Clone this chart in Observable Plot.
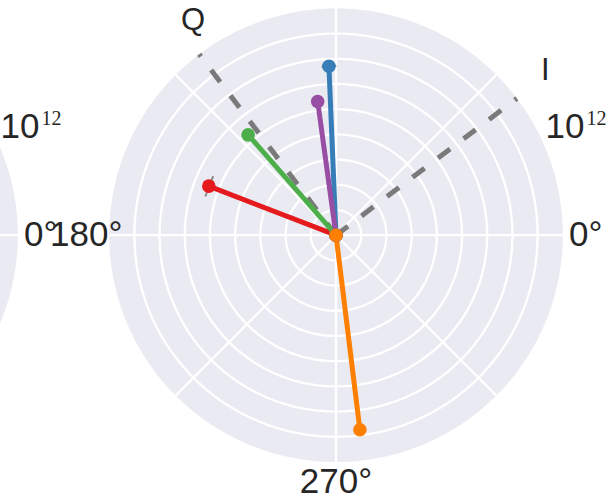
<!DOCTYPE html>
<html>
<head>
<meta charset="utf-8">
<script src="https://cdn.jsdelivr.net/npm/d3@7"></script>
<script src="https://cdn.jsdelivr.net/npm/@observablehq/plot@0.6"></script>
<style>
  html, body { margin: 0; padding: 0; background: #fff; }
  #chart { width: 615px; height: 499px; overflow: hidden; position: relative; }
  #chart svg { overflow: hidden; display: block; }
</style>
</head>
<body>
<div id="chart"></div>
<script>
// ---------- data ----------
const series = ["S1", "S2", "S3", "S4", "S5"];
const seriesColors = ["#e41a1c", "#377eb8", "#4daf4a", "#984ea3", "#ff7f00"];
const phaseDeg = [158.9, 92.4, 131.2, 97.8, 277.0];
const magnitude = [2.56e8, 5.15e9, 1.96e8, 2.26e8, 6.02e10];
const phaseErrDeg = [4.6, 2.5, 0, 0, 0];

const iqAxes = ["I", "Q"];
const iqAngleDeg = [37.1, 127.1];

const thetaTicks = [0, 45, 90, 135, 180, 225, 270, 315];
const thetaTickLabels = ["0°", "", "90°", "", "180°", "", "270°", ""];
const radialTicks = [1e4, 1e5, 1e6, 1e7, 1e8, 1e9, 1e10, 1e11, 1e12];
const radialLimits = [1e3, 1e12];
const radialLabelBase = "10";
const radialLabelExp = "12";
const radialLabelAngle = 22.5;

// ---------- layout ----------
const W = 615, H = 499;
const centerPx = [335.5, 234.7];
const radiusPx = 226.8;
const panelOffsetPx = -545;
const u = px => px / radiusPx;
const rad = d => d * Math.PI / 180;
const rho = d3.scaleLog().domain(radialLimits).range([0, 1]);
const pt = (cx, theta, r) => ({x: cx + r * Math.cos(rad(theta)), y: r * Math.sin(rad(theta))});
const panels = [{panel: "left", cx: u(panelOffsetPx)}, {panel: "right", cx: 0}];
const visible = p => {
  const px = centerPx[0] + p.x * radiusPx, py = centerPx[1] - p.y * radiusPx;
  return px > -20 && px < W + 20 && py > 0 && py < H;
};

const sweep = d3.range(0, 361, 1);
const disk = panels.flatMap(p => sweep.map(t => ({panel: p.panel, ...pt(p.cx, t, 1)})));
const rings = panels.flatMap(p => radialTicks.filter(v => v < radialLimits[1])
  .flatMap(v => sweep.map(t => ({ring: p.panel + v, ...pt(p.cx, t, rho(v))}))));
const spokes = panels.flatMap(p => thetaTicks.map(t => {
  const e = pt(p.cx, t, 1);
  return {x1: p.cx, y1: 0, x2: e.x, y2: e.y};
}));

const padH = u(23), padV = u(20);
const thetaLabels = panels.flatMap(p => thetaTicks.map((t, i) => ({
  text: thetaTickLabels[i],
  x: p.cx + Math.cos(rad(t)) * (1 + padH),
  y: Math.sin(rad(t)) * (1 + padV)
}))).filter(d => d.text && visible(d));

const rLabels = panels.map(p => pt(p.cx, radialLabelAngle, rho(radialLimits[1])));

const iqRows = iqAxes.map((name, i) => ({name, ...pt(0, iqAngleDeg[i], 1)}));
const iqText = iqAxes.map((name, i) => ({name, ...pt(0, iqAngleDeg[i], u(257))}));

const rows = series.map((s, i) => ({series: s, theta: phaseDeg[i], r: magnitude[i], err: phaseErrDeg[i]}));
const lineRows = rows.map(d => { const e = pt(0, d.theta, rho(d.r)); return {series: d.series, x2: e.x, y2: e.y}; });
const errRows = rows.filter(d => d.err > 0).map(d => {
  const a = pt(0, d.theta - d.err, rho(d.r)), b = pt(0, d.theta + d.err, rho(d.r));
  return {series: d.series, x1: a.x, y1: a.y, x2: b.x, y2: b.y};
});
const dotRows = rows.flatMap(d => [{series: d.series, x: 0, y: 0}, {series: d.series, ...pt(0, d.theta, rho(d.r))}]);

const sans = "'Liberation Sans', Arial, Helvetica, sans-serif";
const ink = "#262626";

const chart = Plot.plot({
  width: W,
  height: H,
  margin: 0,
  x: {domain: [u(-centerPx[0]), u(W - centerPx[0])], axis: null},
  y: {domain: [u(-(H - centerPx[1])), u(centerPx[1])], axis: null},
  color: {type: "ordinal", domain: series, range: seriesColors},
  style: {background: "#fff", fontFamily: sans, color: ink},
  marks: [
    Plot.line(disk, {x: "x", y: "y", z: "panel", fill: "#eaeaf2", stroke: "none"}),
    Plot.line(rings, {x: "x", y: "y", z: "ring", stroke: "#fff", strokeWidth: 2.3}),
    Plot.link(spokes, {x1: "x1", y1: "y1", x2: "x2", y2: "y2", stroke: "#fff", strokeWidth: 2.3}),
    Plot.link(iqRows, {x1: 0, y1: 0, x2: "x", y2: "y", stroke: "#7a7a7a", strokeWidth: 5, strokeDasharray: "15,17"}),
    Plot.link(lineRows, {x1: 0, y1: 0, x2: "x2", y2: "y2", stroke: "series", strokeWidth: 5}),
    Plot.link(errRows, {x1: "x1", y1: "y1", x2: "x2", y2: "y2", stroke: "#8c8c8c", strokeWidth: 2}),
    Plot.dot(dotRows, {x: "x", y: "y", r: 6.8, fill: "series", stroke: "none"}),
    Plot.text(thetaLabels, {x: "x", y: "y", text: "text", fontSize: 35, fill: ink, textAnchor: "middle", lineAnchor: "middle"}),
    Plot.text(rLabels, {x: "x", y: "y", text: () => radialLabelBase, fontSize: 35, fill: ink, textAnchor: "start", lineAnchor: "bottom", dy: -10}),
    Plot.text(rLabels, {x: "x", y: "y", text: () => radialLabelExp, fontSize: 20, fontFamily: "'Liberation Serif', 'DejaVu Serif', serif", fill: ink, textAnchor: "start", lineAnchor: "bottom", dx: 41, dy: -23}),
    Plot.text(iqText, {x: "x", y: "y", text: "name", fontSize: 31, fill: ink, textAnchor: "start", lineAnchor: "bottom"})
  ]
});
document.getElementById("chart").appendChild(chart);
</script>
</body>
</html>
